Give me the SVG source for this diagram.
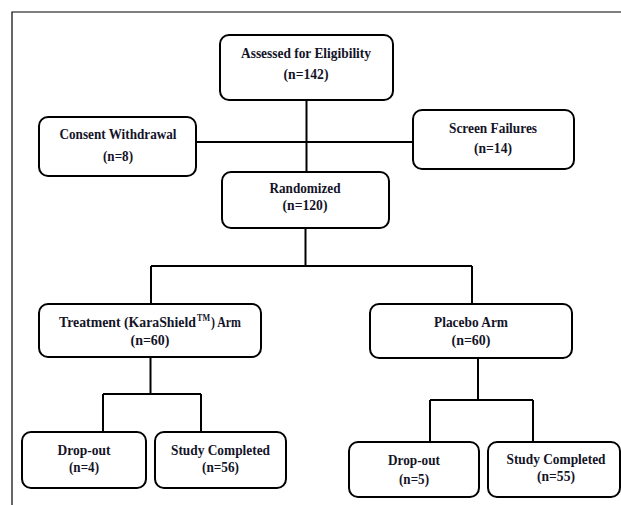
<svg xmlns="http://www.w3.org/2000/svg" width="621" height="505" viewBox="0 0 621 505">
<style>
.box{fill:#fff;stroke:#000;stroke-width:2}
.t{font-family:"Liberation Serif","Times New Roman",serif;font-weight:bold;font-size:15px;fill:#141428;text-anchor:middle}
.s{text-anchor:start}
.sup{font-size:9.5px}
.c{fill:none;stroke:#000;stroke-width:2}
.f{fill:none;stroke:#000;stroke-width:1.2}
</style>
<rect width="621" height="505" fill="#fff"/>
<path class="f" d="M12,505 V12 H621"/>
<g id="connectors">
<path class="c" d="M306.5,100 V172"/>
<path class="c" d="M196,142 H413"/>
<path class="c" d="M305.5,228 V266 M151,266 H472 M151,266 V304 M472,266 V304"/>
<path class="c" d="M150.5,357 V394 M103,394 H201 M103,394 V432 M201,394 V432"/>
<path class="c" d="M478,358 V400 M430,400 H533 M430,400 V442 M533,400 V442"/>
</g>
<g id="assessed">
<rect class="box" x="220" y="35" width="173" height="65" rx="9"/>
<text class="t" x="306" y="58" textLength="130" lengthAdjust="spacingAndGlyphs">Assessed for Eligibility</text>
<text class="t" x="306" y="79" textLength="45" lengthAdjust="spacingAndGlyphs">(n=142)</text>
</g>
<g id="consent">
<rect class="box" x="39" y="117" width="157" height="59" rx="9"/>
<text class="t" x="118" y="139" textLength="117" lengthAdjust="spacingAndGlyphs">Consent Withdrawal</text>
<text class="t" x="118" y="161" textLength="30" lengthAdjust="spacingAndGlyphs">(n=8)</text>
</g>
<g id="screen">
<rect class="box" x="413" y="110" width="161" height="59" rx="9"/>
<text class="t" x="493" y="133" textLength="88" lengthAdjust="spacingAndGlyphs">Screen Failures</text>
<text class="t" x="493" y="153" textLength="38" lengthAdjust="spacingAndGlyphs">(n=14)</text>
</g>
<g id="randomized">
<rect class="box" x="222" y="172" width="167" height="56" rx="9"/>
<text class="t" x="305" y="193" textLength="71" lengthAdjust="spacingAndGlyphs">Randomized</text>
<text class="t" x="305" y="210" textLength="45" lengthAdjust="spacingAndGlyphs">(n=120)</text>
</g>
<g id="treatment">
<rect class="box" x="39" y="304" width="222" height="53" rx="9"/>
<text class="t s" x="59" y="327" textLength="137" lengthAdjust="spacingAndGlyphs">Treatment (KaraShield</text>
<text class="t s sup" x="197" y="320.5" textLength="13" lengthAdjust="spacingAndGlyphs">TM</text>
<text class="t s" x="211" y="327" textLength="30" lengthAdjust="spacingAndGlyphs">) Arm</text>
<text class="t" x="150" y="345" textLength="39" lengthAdjust="spacingAndGlyphs">(n=60)</text>
</g>
<g id="placebo">
<rect class="box" x="370" y="304" width="202" height="54" rx="9"/>
<text class="t" x="471" y="327" textLength="74" lengthAdjust="spacingAndGlyphs">Placebo Arm</text>
<text class="t" x="471" y="345" textLength="39" lengthAdjust="spacingAndGlyphs">(n=60)</text>
</g>
<g id="dropout-treatment">
<rect class="box" x="22" y="432" width="124" height="56" rx="9"/>
<text class="t" x="84" y="455" textLength="53" lengthAdjust="spacingAndGlyphs">Drop-out</text>
<text class="t" x="84" y="472" textLength="30" lengthAdjust="spacingAndGlyphs">(n=4)</text>
</g>
<g id="completed-treatment">
<rect class="box" x="155" y="432" width="131" height="56" rx="9"/>
<text class="t" x="220.5" y="455" textLength="99" lengthAdjust="spacingAndGlyphs">Study Completed</text>
<text class="t" x="220.5" y="472" textLength="37" lengthAdjust="spacingAndGlyphs">(n=56)</text>
</g>
<g id="dropout-placebo">
<rect class="box" x="349" y="442" width="130" height="55" rx="9"/>
<text class="t" x="414" y="465" textLength="52" lengthAdjust="spacingAndGlyphs">Drop-out</text>
<text class="t" x="414" y="484" textLength="30" lengthAdjust="spacingAndGlyphs">(n=5)</text>
</g>
<g id="completed-placebo">
<rect class="box" x="488" y="442" width="132" height="55" rx="9"/>
<text class="t" x="556" y="464" textLength="99" lengthAdjust="spacingAndGlyphs">Study Completed</text>
<text class="t" x="556" y="481" textLength="38" lengthAdjust="spacingAndGlyphs">(n=55)</text>
</g>
</svg>
